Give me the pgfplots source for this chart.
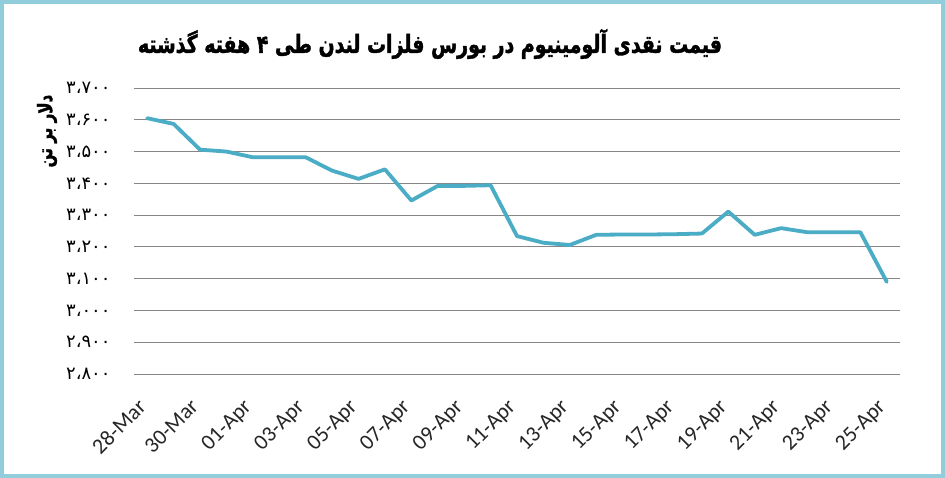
\documentclass[border=0pt]{standalone}
\usepackage{pgfplots}
\pgfplotsset{compat=1.18}
\usepackage{fontspec}
\setmainfont{Carlito}
\newfontfamily\arabicfont[Script=Arabic]{DejaVu Sans}
\newfontfamily\arabictitle[Script=Arabic, FakeStretch=0.76, FakeBold=1.5]{DejaVu Sans Bold}
\TeXXeTstate=1
\definecolor{linecol}{HTML}{4BACC6}
\definecolor{bordercol}{HTML}{92CDDC}
\definecolor{gridcol}{HTML}{868686}
\begin{document}
\begin{tikzpicture}
\useasboundingbox (0,0) rectangle (945bp,478bp);
\fill[white] (0,0) rectangle (945bp,478bp);
\draw[line width=4bp, bordercol] (2bp,2bp) rectangle (943bp,476bp);
\node[font=\arabictitle\fontsize{25}{28}\selectfont] at (430bp,434bp) {\beginR قیمت نقدی آلومینیوم در بورس فلزات لندن طی ۴ هفته گذشته\endR};
\begin{axis}[
  at={(134bp,104bp)}, anchor=south west,
  scale only axis, width=766bp, height=286bp,
  xmin=-0.5, xmax=28.5, ymin=2800, ymax=3700,
  axis lines*=left,
  x axis line style={draw=gridcol, line width=0.8bp},
  y axis line style={draw=none},
  ytick={2800,2900,...,3700},
  yticklabels={۲،۸۰۰,۲،۹۰۰,۳،۰۰۰,۳،۱۰۰,۳،۲۰۰,۳،۳۰۰,۳،۴۰۰,۳،۵۰۰,۳،۶۰۰,۳،۷۰۰},
  yticklabel style={font=\arabicfont\fontsize{18}{20}\selectfont, anchor=east, xshift=-20bp},
  ytick style={draw=none},
  ymajorgrids, grid style={draw=gridcol, line width=0.8bp},
  xtick={-0.4,1.6,...,27.6},
  xticklabels={28-Mar,30-Mar,01-Apr,03-Apr,05-Apr,07-Apr,09-Apr,11-Apr,13-Apr,15-Apr,17-Apr,19-Apr,21-Apr,23-Apr,25-Apr},
  xticklabel style={font=\fontsize{22}{24}\selectfont, rotate=45, anchor=north east, text=black!85},
  xticklabel shift=19bp,
  major x tick style={draw=none},
  extra x ticks={-0.5,1.5,...,27.5},
  extra x tick labels={},
  extra x tick style={major tick length=7bp, tick align=outside, tick style={draw=gridcol, line width=0.8bp}, grid=none},
  clip=false,
]
\addplot[linecol, line width=3.8bp, line join=round, line cap=round] coordinates {
(0,3605) (1,3587) (2,3506) (3,3500) (4,3482) (5,3482) (6,3482) (7,3440)
(8,3414) (9,3444) (10,3346) (11,3392) (12,3392) (13,3394) (14,3234)
(15,3213) (16,3206) (17,3238) (18,3239) (19,3239) (20,3240) (21,3242)
(22,3311) (23,3238) (24,3259) (25,3246) (26,3246) (27,3246) (28,3090)
};
\end{axis}
\node[font=\arabictitle\fontsize{20}{22}\selectfont, rotate=90] at (47bp,347bp) {\beginR دلار بر تن\endR};
\end{tikzpicture}
\end{document}
